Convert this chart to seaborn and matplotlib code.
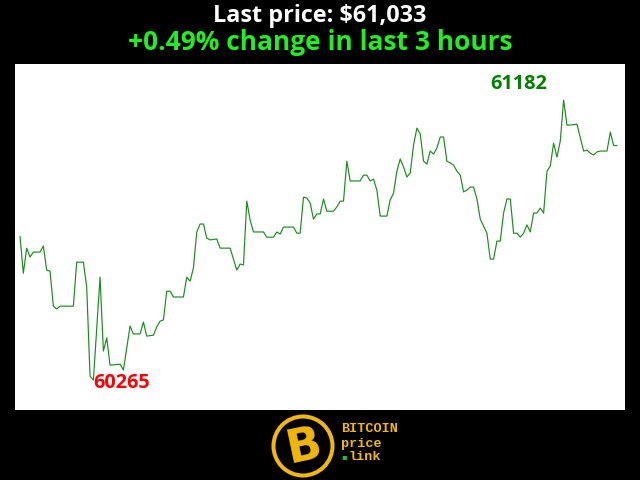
import matplotlib
matplotlib.use("Agg")
import matplotlib.pyplot as plt
import seaborn as sns
import pandas as pd
from matplotlib.patches import Circle

# ---- data (minute index within the last 3 hours, price in USD) ----
minutes = [0, 1, 2, 3, 4, 6, 7, 8, 9, 10, 11, 12, 16, 17, 19, 20, 21, 22, 24, 25,
           26, 27, 30, 31, 33, 34, 36, 37, 38, 40, 41, 42, 43, 44, 45, 46, 49, 50, 51, 52,
           53, 54, 55, 56, 57, 59, 60, 63, 65, 66, 67, 68, 69, 70, 73, 74, 76, 77, 78, 79,
           82, 83, 84, 85, 86, 87, 88, 89, 90, 91, 92, 94, 95, 96, 97, 98, 99, 102, 103, 104,
           105, 106, 107, 108, 110, 111, 112, 113, 114, 115, 116, 117, 118, 119, 120, 121, 122, 123, 124, 125,
           126, 127, 128, 129, 130, 131, 132, 133, 134, 135, 136, 137, 138, 139, 140, 141, 142, 143, 144, 145,
           146, 147, 148, 149, 150, 151, 152, 153, 154, 155, 156, 157, 158, 159, 160, 161, 162, 163, 164, 165,
           167, 168, 169, 170, 171, 172, 173, 174, 176, 177, 178, 179]
prices = [60735, 60615, 60697, 60668, 60684, 60684, 60704, 60625, 60622, 60507, 60498, 60507, 60507, 60651, 60651, 60570, 60278, 60265, 60602, 60360,
          60403, 60314, 60317, 60298, 60442, 60416, 60416, 60455, 60409, 60412, 60439, 60458, 60462, 60556, 60556, 60537, 60537, 60602, 60589, 60632,
          60750, 60776, 60776, 60730, 60724, 60727, 60697, 60697, 60625, 60645, 60642, 60851, 60789, 60750, 60750, 60733, 60733, 60750, 60743, 60766,
          60766, 60746, 60746, 60864, 60861, 60845, 60792, 60809, 60809, 60858, 60818, 60818, 60832, 60851, 60851, 60982, 60917, 60917, 60936, 60936,
          60917, 60923, 60887, 60802, 60802, 60855, 60877, 60949, 60989, 60963, 60930, 60943, 61035, 61090, 61071, 60982, 60972, 61015, 61005, 61025,
          61061, 61061, 60982, 60976, 60969, 60949, 60936, 60881, 60887, 60897, 60897, 60858, 60792, 60769, 60746, 60661, 60661, 60720, 60720, 60812,
          60858, 60858, 60746, 60746, 60733, 60746, 60773, 60750, 60812, 60812, 60828, 60812, 60949, 60966, 61041, 60995, 61048, 61182, 61100, 61100,
          61103, 61058, 61015, 61018, 61008, 61002, 61012, 61015, 61015, 61077, 61033, 61033]

title_line1 = "Last price: $61,033"
title_line2 = "+0.49% change in last 3 hours"

df = pd.DataFrame({"minute": minutes, "price": prices})

sns.set_style("white")
plt.rcParams["font.family"] = ["Open Sans", "DejaVu Sans"]

fig = plt.figure(figsize=(6.4, 4.8), dpi=100, facecolor="black")
ax = fig.add_axes([15 / 640, 70 / 480, 610 / 640, 346 / 480])
ax.set_facecolor("white")

sns.lineplot(data=df, x="minute", y="price", ax=ax, color="#1a8c1a", linewidth=0.85)

ax.set_xlim(-1.5, 181.4)
ax.set_ylim(60167, 61300)
ax.set_xticks([])
ax.set_yticks([])
ax.set_xlabel("")
ax.set_ylabel("")
for s in ax.spines.values():
    s.set_visible(False)

# min / max annotations
i_min = prices.index(min(prices))
i_max = prices.index(max(prices))
ax.annotate(str(min(prices)), (minutes[i_min], prices[i_min]), xytext=(0, -2.2),
            textcoords="offset points", ha="left", va="center", color="red",
            fontsize=14.3, fontweight="bold")
ax.annotate(str(max(prices)), (minutes[i_max], prices[i_max]), xytext=(-32.5, 11.5),
            textcoords="offset points", ha="center", va="center", color="#008000",
            fontsize=14.3, fontweight="bold")

# titles
fig.text(0.5, 1 - 15.5 / 480, title_line1, ha="center", va="center", color="white",
         fontsize=16.8, fontweight="bold")
fig.text(0.5, 1 - 42 / 480, title_line2, ha="center", va="center", color="#22ee22",
         fontsize=19, fontweight="bold")

# logo
gold = "#f2b807"
lax = fig.add_axes([269 / 640, 0, 68 / 640, 68 / 480])
lax.set_xlim(0, 1)
lax.set_ylim(0, 1)
lax.axis("off")
lax.add_patch(Circle((0.5, 0.5), 0.434, facecolor="black", edgecolor=gold, linewidth=2.9))
lax.text(0.52, 0.48, "B", fontsize=33, fontweight="heavy", color=gold, rotation=12,
         ha="center", va="center", family="DejaVu Sans")

mono = ["Liberation Mono", "DejaVu Sans Mono"]
fig.text(341 / 640, 1 - 429 / 480, "BITCOIN", ha="left", va="center", color=gold,
         fontsize=9.7, fontweight="bold", family=mono)
fig.text(341 / 640, 1 - 443.5 / 480, "price", ha="left", va="center", color=gold,
         fontsize=9.7, fontweight="bold", family=mono)
fig.text(349 / 640, 1 - 457 / 480, "link", ha="left", va="center", color=gold,
         fontsize=9.7, fontweight="bold", family=mono)
fig.text(344.5 / 640, 1 - 457 / 480, "\u25aa", ha="center", va="center", color="#2db82d",
         fontsize=6, family="DejaVu Sans")

fig.savefig("out.png", dpi=100, facecolor="black")
